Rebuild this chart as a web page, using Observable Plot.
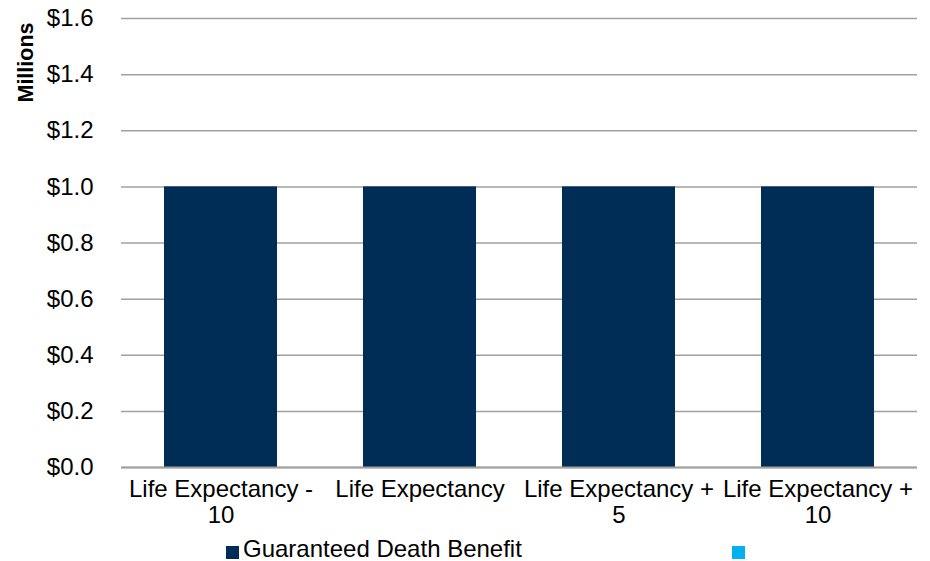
<!DOCTYPE html>
<html>
<head>
<meta charset="utf-8">
<script src="https://cdn.jsdelivr.net/npm/d3@7"></script>
<script src="https://cdn.jsdelivr.net/npm/@observablehq/plot@0.6"></script>
<style>
  html, body { margin: 0; padding: 0; background: #fff; }
  #wrap { position: relative; width: 930px; height: 561px; font-family: "Liberation Sans", Arial, sans-serif; }
  #legend { position: absolute; left: 0; top: 536px; width: 930px; height: 25px; font-size: 24px; color: #000; }
  .sw { position: absolute; width: 13px; height: 13px; top: 10px; }
  .lt { position: absolute; top: 0px; line-height: 25px; white-space: nowrap; }
</style>
</head>
<body>
<div id="wrap">
  <div id="chart"></div>
  <div id="legend"></div>
</div>
<script>
const categories = ["Life Expectancy - 10", "Life Expectancy", "Life Expectancy + 5", "Life Expectancy + 10"];
const tickLabels = ["Life Expectancy -\n10", "Life Expectancy", "Life Expectancy +\n5", "Life Expectancy +\n10"];
const guaranteedDeathBenefit = [1.0, 1.0, 1.0, 1.0];
const yTicks = [0, 0.2, 0.4, 0.6, 0.8, 1.0, 1.2, 1.4, 1.6];
const seriesNames = ["Guaranteed Death Benefit", ""];
const seriesColors = ["#002D55", "#00B0F0"];

const data = categories.map((c, i) => ({category: c, value: guaranteedDeathBenefit[i]}));

const chart = Plot.plot({
  width: 930,
  height: 536,
  marginTop: 18,
  marginBottom: 69,
  marginLeft: 121,
  marginRight: 13,
  style: {fontFamily: "Liberation Sans, Arial, sans-serif", fontSize: "24px", color: "#000", background: "#fff"},
  x: {domain: categories, paddingInner: 0.43, paddingOuter: 0.215, label: null},
  y: {domain: [0, 1.6], label: null},
  marks: [
    Plot.gridY(yTicks, {stroke: "#a0a0a0", strokeOpacity: 1, strokeWidth: 1.5}),
    Plot.barY(data, {x: "category", y: "value", fill: seriesColors[0]}),
    Plot.ruleY([0], {stroke: "#a0a0a0", strokeWidth: 2}),
    Plot.axisY(yTicks, {tickSize: 0, tickPadding: 28, tickFormat: d => "$" + d.toFixed(1), fontSize: 24, label: null}),
    Plot.axisX({tickSize: 0, tickPadding: 11, fontSize: 24, lineHeight: 1.08, tickFormat: (d) => tickLabels[categories.indexOf(d)], label: null}),
    Plot.text(["Millions"], {frameAnchor: "top-left", dx: -104, dy: 44, rotate: -90, fontWeight: "bold", fontSize: 21.5, textAnchor: "middle"})
  ]
});
document.getElementById("chart").appendChild(chart);

const legend = document.getElementById("legend");
const positions = [226, 732];
seriesNames.forEach((name, i) => {
  const sw = document.createElement("div");
  sw.className = "sw";
  sw.style.left = positions[i] + "px";
  sw.style.background = seriesColors[i];
  legend.appendChild(sw);
  if (name) {
    const t = document.createElement("div");
    t.className = "lt";
    t.style.left = (positions[i] + 17) + "px";
    t.textContent = name;
    legend.appendChild(t);
  }
});
</script>
</body>
</html>
